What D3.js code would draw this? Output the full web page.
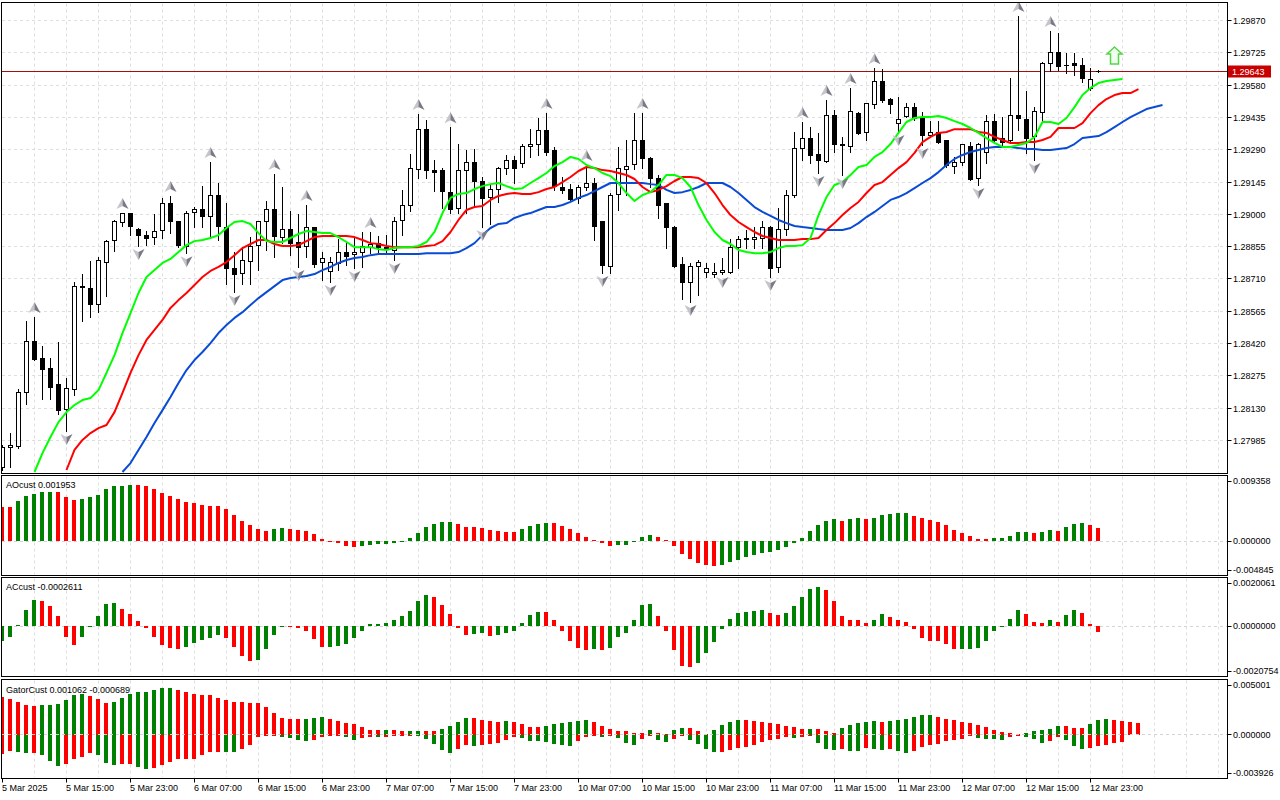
<!DOCTYPE html>
<html>
<head>
<meta charset="utf-8">
<script src="https://cdn.jsdelivr.net/npm/d3@7"></script>
<style>
  body { margin: 0; background: #fff; }
  svg { display: block; }
  text { font-family: "Liberation Sans", Arial, sans-serif; font-size: 9px; fill: #000; }
</style>
</head>
<body>
<div id="chart"></div>
<script>
// GBPUSD H1, 5 Mar 07:00 .. 13 Mar 00:00 (one candle per hour)
const open = [
1.27861,1.27951,1.27960,1.28202,1.28431,1.28355,1.28310,1.28234,1.28126,1.28216,
1.28674,1.28665,1.28593,1.28786,1.28880,1.28961,1.29002,1.28930,1.28907,1.28894,
1.28925,1.29047,1.28966,1.28858,1.29006,1.29020,1.28988,1.29083,1.28943,1.28759,
1.28732,1.28791,1.28858,1.28966,1.29020,1.28898,1.28934,1.28876,1.28853,1.28939,
1.28782,1.28741,1.28782,1.28831,1.28822,1.28831,1.28853,1.28871,1.28853,1.28840,
1.28970,1.29038,1.29204,1.29383,1.29199,1.29195,1.29100,1.29024,1.29195,1.29231,
1.29150,1.29074,1.29110,1.29204,1.29240,1.29231,1.29307,1.29316,1.29379,1.29285,
1.29123,1.29114,1.29074,1.29123,1.29141,1.28966,1.28768,1.29087,1.29204,1.29226,
1.29334,1.29253,1.29163,1.29047,1.28943,1.28773,1.28692,1.28764,1.28737,1.28728,
1.28737,1.28741,1.28853,1.28889,1.28889,1.28894,1.28943,1.28764,1.28934,1.29087,
1.29298,1.29343,1.29267,1.29240,1.29446,1.29316,1.29303,1.29455,1.29366,1.29496,
1.29599,1.29518,1.29410,1.29442,1.29482,1.29433,1.29357,1.29370,1.29330,1.29217,
1.29235,1.29307,1.29163,1.29280,1.29419,1.29343,1.29330,1.29442,1.29428,1.29348,
1.29460,1.29680,1.29729,1.29671,1.29676,1.29671,1.29568,1.29644
];
const high = [
1.27964,1.28018,1.28216,1.28521,1.28539,1.28409,1.28355,1.28427,1.28265,1.28696,
1.28732,1.28791,1.28809,1.28885,1.28975,1.29006,1.29006,1.28939,1.28925,1.29002,
1.29074,1.29083,1.28970,1.29015,1.29033,1.29127,1.29235,1.29141,1.29051,1.28831,
1.28853,1.28898,1.28970,1.29060,1.29181,1.29123,1.29015,1.29002,1.29042,1.28943,
1.28831,1.28809,1.28889,1.28871,1.28894,1.28921,1.28921,1.28903,1.28907,1.28988,
1.29110,1.29271,1.29451,1.29424,1.29244,1.29208,1.29392,1.29316,1.29289,1.29294,
1.29168,1.29136,1.29213,1.29267,1.29262,1.29316,1.29383,1.29433,1.29455,1.29303,
1.29168,1.29136,1.29132,1.29222,1.29163,1.28966,1.29096,1.29303,1.29334,1.29455,
1.29455,1.29258,1.29177,1.29051,1.28948,1.28809,1.28782,1.28795,1.28782,1.28782,
1.28804,1.28889,1.28903,1.28930,1.28943,1.28970,1.28948,1.29029,1.29110,1.29370,
1.29415,1.29392,1.29366,1.29514,1.29469,1.29348,1.29568,1.29460,1.29500,1.29657,
1.29653,1.29523,1.29527,1.29500,1.29500,1.29460,1.29419,1.29419,1.29334,1.29258,
1.29316,1.29325,1.29321,1.29446,1.29451,1.29437,1.29613,1.29891,1.29554,1.29482,
1.29685,1.29824,1.29815,1.29725,1.29725,1.29703,1.29657,1.29649
];
const low = [
1.27852,1.27865,1.27951,1.28148,1.28346,1.28171,1.28171,1.28103,1.28027,1.28189,
1.28521,1.28539,1.28561,1.28633,1.28835,1.28948,1.28907,1.28858,1.28862,1.28867,
1.28894,1.28916,1.28853,1.28826,1.28943,1.28943,1.28898,1.28885,1.28687,1.28651,
1.28687,1.28687,1.28750,1.28840,1.28809,1.28871,1.28817,1.28764,1.28809,1.28764,
1.28705,1.28696,1.28750,1.28773,1.28759,1.28764,1.28826,1.28826,1.28831,1.28795,
1.28907,1.29015,1.29163,1.29163,1.29105,1.29029,1.29006,1.29006,1.29006,1.29038,
1.28943,1.28957,1.29056,1.29181,1.29141,1.29213,1.29258,1.29267,1.29267,1.29110,
1.29096,1.29065,1.29051,1.29110,1.28885,1.28737,1.28737,1.29020,1.29087,1.29204,
1.29208,1.29123,1.28984,1.28849,1.28764,1.28620,1.28606,1.28638,1.28719,1.28719,
1.28732,1.28737,1.28759,1.28849,1.28849,1.28849,1.28719,1.28741,1.28907,1.29078,
1.29244,1.29231,1.29186,1.29235,1.29280,1.29177,1.29280,1.29361,1.29334,1.29478,
1.29505,1.29455,1.29370,1.29437,1.29424,1.29312,1.29348,1.29321,1.29213,1.29186,
1.29222,1.29154,1.29132,1.29231,1.29325,1.29312,1.29325,1.29379,1.29276,1.29244,
1.29415,1.29644,1.29649,1.29635,1.29626,1.29595,1.29559,1.29640
];
const close = [
1.27951,1.27960,1.28202,1.28431,1.28350,1.28305,1.28225,1.28117,1.28220,1.28678,
1.28669,1.28593,1.28791,1.28880,1.28966,1.29002,1.28943,1.28903,1.28894,1.28921,
1.29047,1.28966,1.28858,1.29006,1.29020,1.28988,1.29083,1.28943,1.28759,1.28732,
1.28791,1.28858,1.28966,1.29020,1.28898,1.28934,1.28871,1.28853,1.28939,1.28773,
1.28800,1.28782,1.28831,1.28813,1.28831,1.28858,1.28867,1.28853,1.28849,1.28970,
1.29038,1.29204,1.29383,1.29199,1.29190,1.29100,1.29024,1.29195,1.29231,1.29145,
1.29074,1.29110,1.29204,1.29240,1.29204,1.29307,1.29316,1.29379,1.29280,1.29123,
1.29110,1.29069,1.29123,1.29141,1.28948,1.28768,1.29087,1.29204,1.29217,1.29334,
1.29253,1.29163,1.29042,1.28939,1.28768,1.28692,1.28764,1.28782,1.28755,1.28737,
1.28746,1.28853,1.28889,1.28894,1.28898,1.28943,1.28759,1.28934,1.29087,1.29298,
1.29343,1.29267,1.29240,1.29446,1.29316,1.29312,1.29460,1.29366,1.29496,1.29599,
1.29514,1.29496,1.29428,1.29482,1.29433,1.29357,1.29370,1.29325,1.29217,1.29235,
1.29316,1.29159,1.29316,1.29419,1.29334,1.29325,1.29442,1.29428,1.29343,1.29460,
1.29680,1.29729,1.29667,1.29669,1.29667,1.29613,1.29608,1.29643
];

// Alligator lines (index of first visible point, then values)
const lipsStart = 4;
const lips = [
1.27843,1.27928,1.28000,1.28067,1.28112,1.28144,1.28166,1.28175,1.28211,1.28288,
1.28368,1.28467,1.28557,1.28647,1.28719,1.28750,1.28782,1.28800,1.28831,1.28862,
1.28880,1.28885,1.28894,1.28907,1.28939,1.28966,1.28970,1.28957,1.28916,1.28880,
1.28876,1.28876,1.28894,1.28912,1.28925,1.28921,1.28916,1.28916,1.28898,1.28876,
1.28853,1.28853,1.28853,1.28844,1.28840,1.28849,1.28853,1.28853,1.28858,1.28876,
1.28921,1.29006,1.29074,1.29092,1.29096,1.29114,1.29127,1.29136,1.29141,1.29127,
1.29114,1.29118,1.29141,1.29163,1.29186,1.29217,1.29235,1.29258,1.29249,1.29222,
1.29208,1.29186,1.29172,1.29141,1.29096,1.29060,1.29087,1.29100,1.29132,1.29177,
1.29177,1.29163,1.29123,1.29042,1.28975,1.28921,1.28885,1.28867,1.28840,1.28831,
1.28826,1.28826,1.28831,1.28849,1.28858,1.28858,1.28862,1.28894,1.28997,1.29078,
1.29132,1.29145,1.29177,1.29213,1.29222,1.29258,1.29280,1.29316,1.29366,1.29415,
1.29433,1.29437,1.29437,1.29442,1.29433,1.29419,1.29406,1.29388,1.29366,1.29343,
1.29321,1.29303,1.29303,1.29312,1.29321,1.29348,1.29415,1.29415,1.29406,1.29433,
1.29482,1.29536,1.29568,1.29590,1.29599,1.29604,1.29608
];
const teethStart = 8;
const teeth = [
1.27852,1.27942,1.27987,1.28018,1.28040,1.28054,1.28112,1.28198,1.28288,1.28368,
1.28436,1.28481,1.28526,1.28580,1.28615,1.28647,1.28683,1.28719,1.28746,1.28764,
1.28786,1.28817,1.28849,1.28867,1.28885,1.28885,1.28867,1.28858,1.28858,1.28862,
1.28880,1.28898,1.28903,1.28903,1.28903,1.28903,1.28898,1.28885,1.28871,1.28867,
1.28858,1.28853,1.28853,1.28853,1.28853,1.28858,1.28862,1.28880,1.28921,1.28975,
1.29020,1.29033,1.29038,1.29065,1.29083,1.29092,1.29096,1.29092,1.29092,1.29100,
1.29114,1.29123,1.29145,1.29168,1.29195,1.29213,1.29208,1.29199,1.29195,1.29186,
1.29177,1.29159,1.29123,1.29100,1.29110,1.29127,1.29150,1.29168,1.29168,1.29163,
1.29141,1.29096,1.29042,1.28997,1.28966,1.28943,1.28921,1.28903,1.28894,1.28885,
1.28885,1.28885,1.28889,1.28889,1.28894,1.28930,1.28961,1.28997,1.29029,1.29056,
1.29096,1.29132,1.29145,1.29177,1.29208,1.29235,1.29276,1.29325,1.29348,1.29366,
1.29370,1.29383,1.29383,1.29383,1.29370,1.29366,1.29348,1.29334,1.29321,1.29321,
1.29325,1.29325,1.29334,1.29348,1.29388,1.29388,1.29388,1.29410,1.29455,1.29491,
1.29518,1.29536,1.29545,1.29545,1.29563
];
const jawStart = 15;
const jaw = [
1.27843,1.27883,1.27942,1.28000,1.28063,1.28121,1.28180,1.28243,1.28301,1.28346,
1.28382,1.28422,1.28467,1.28503,1.28535,1.28561,1.28593,1.28624,1.28651,1.28678,
1.28705,1.28714,1.28719,1.28723,1.28732,1.28750,1.28764,1.28782,1.28795,1.28804,
1.28809,1.28817,1.28822,1.28822,1.28822,1.28822,1.28822,1.28822,1.28826,1.28826,
1.28826,1.28826,1.28831,1.28849,1.28871,1.28907,1.28939,1.28957,1.28961,1.28984,
1.28997,1.29006,1.29020,1.29033,1.29033,1.29042,1.29056,1.29074,1.29087,1.29105,
1.29123,1.29141,1.29141,1.29141,1.29141,1.29141,1.29136,1.29132,1.29110,1.29096,
1.29100,1.29110,1.29123,1.29141,1.29141,1.29141,1.29123,1.29096,1.29065,1.29033,
1.29011,1.28993,1.28975,1.28961,1.28948,1.28943,1.28939,1.28934,1.28930,1.28930,
1.28930,1.28939,1.28961,1.28988,1.29011,1.29038,1.29065,1.29078,1.29096,1.29118,
1.29141,1.29163,1.29190,1.29222,1.29249,1.29267,1.29280,1.29289,1.29298,1.29303,
1.29303,1.29303,1.29298,1.29294,1.29294,1.29289,1.29289,1.29294,1.29298,1.29316,
1.29343,1.29348,1.29352,1.29370,1.29392,1.29415,1.29437,1.29455,1.29473,1.29482,
1.29491
];

// Bill Williams fractals (candle indices)
const fractalUp = [4,15,21,26,34,38,46,52,56,68,73,80,100,103,106,109,127,131];
const fractalDown = [8,17,23,29,37,41,44,49,60,75,86,90,96,102,105,112,115,122,129];
const signalUp = { k: 139, price: 1.29752 };

const ao = [
0.00497,0.00488,0.00582,0.00653,0.00682,0.00705,0.00715,0.00710,0.00639,0.00596,
0.00611,0.00639,0.00667,0.00753,0.00795,0.00805,0.00810,0.00807,0.00795,0.00753,
0.00696,0.00653,0.00611,0.00568,0.00554,0.00525,0.00511,0.00502,0.00459,0.00383,
0.00298,0.00227,0.00170,0.00142,0.00170,0.00185,0.00170,0.00156,0.00142,0.00099,
0.00028,-0.00009,-0.00033,-0.00066,-0.00085,-0.00076,-0.00052,-0.00047,-0.00043,-0.00024,
-0.00009,0.00043,0.00123,0.00204,0.00241,0.00270,0.00275,0.00241,0.00208,0.00199,
0.00194,0.00156,0.00142,0.00137,0.00133,0.00170,0.00213,0.00241,0.00256,0.00255,
0.00213,0.00170,0.00114,0.00062,0.00019,-0.00033,-0.00066,-0.00062,-0.00057,-0.00019,
0.00066,0.00085,0.00062,0.00014,-0.00066,-0.00185,-0.00256,-0.00317,-0.00350,-0.00355,
-0.00341,-0.00308,-0.00275,-0.00237,-0.00208,-0.00175,-0.00156,-0.00128,-0.00090,-0.00024,
0.00043,0.00142,0.00227,0.00289,0.00317,0.00284,0.00317,0.00331,0.00327,0.00341,
0.00383,0.00398,0.00400,0.00402,0.00365,0.00336,0.00308,0.00270,0.00227,0.00156,
0.00114,0.00071,0.00028,0.00024,0.00043,0.00045,0.00071,0.00128,0.00130,0.00114,
0.00128,0.00156,0.00151,0.00199,0.00241,0.00256,0.00227,0.001953
];
const ac = [
-0.00060,-0.00045,0.00004,0.00069,0.00110,0.00106,0.00086,0.00041,-0.00045,-0.00078,
-0.00045,-0.00004,0.00041,0.00094,0.00098,0.00073,0.00049,0.00020,-0.00008,-0.00045,
-0.00078,-0.00090,-0.00094,-0.00086,-0.00069,-0.00056,-0.00049,-0.00037,-0.00049,-0.00088,
-0.00126,-0.00144,-0.00141,-0.00097,-0.00037,0.00001,-0.00003,-0.00008,-0.00020,-0.00053,
-0.00087,-0.00086,-0.00084,-0.00073,-0.00049,-0.00020,0.00010,0.00011,0.00012,0.00024,
0.00041,0.00065,0.00106,0.00131,0.00122,0.00090,0.00049,-0.00007,-0.00037,-0.00031,
-0.00029,-0.00039,-0.00037,-0.00030,-0.00020,0.00012,0.00045,0.00061,0.00057,0.00024,
-0.00019,-0.00060,-0.00092,-0.00101,-0.00097,-0.00101,-0.00090,-0.00044,-0.00027,0.00024,
0.00090,0.00094,0.00041,-0.00019,-0.00101,-0.00166,-0.00170,-0.00154,-0.00113,-0.00064,
-0.00011,0.00029,0.00053,0.00061,0.00065,0.00066,0.00053,0.00045,0.00053,0.00086,
0.00122,0.00155,0.00163,0.00151,0.00106,0.00041,0.00026,0.00025,0.00014,0.00026,
0.00049,0.00037,0.00026,0.00018,-0.00012,-0.00049,-0.00060,-0.00063,-0.00076,-0.00097,
-0.00095,-0.00094,-0.00090,-0.00060,-0.00019,0.00001,0.00029,0.00069,0.00049,0.00016,
0.00015,0.00024,0.00016,0.00045,0.00069,0.00053,0.00008,-0.0002611
];
const gatorUp = [
0.00342,0.00324,0.00300,0.00270,0.00261,0.00270,0.00272,0.00282,0.00315,0.00360,
0.00369,0.00351,0.00324,0.00288,0.00297,0.00333,0.00369,0.00387,0.00389,0.00405,
0.00423,0.00425,0.00405,0.00387,0.00369,0.00368,0.00360,0.00333,0.00315,0.00297,
0.00296,0.00294,0.00293,0.00252,0.00198,0.00153,0.00144,0.00143,0.00144,0.00153,
0.00162,0.00144,0.00126,0.00108,0.00099,0.00072,0.00045,0.00044,0.00045,0.00044,
0.00036,0.000375,0.00039,0.000375,0.00036,0.00054,0.00081,0.00117,0.00153,0.00152,
0.00135,0.00126,0.00117,0.00126,0.00117,0.00099,0.00072,0.00071,0.00081,0.00099,
0.00108,0.00117,0.00126,0.00135,0.00117,0.00081,0.00054,0.00036,0.000345,0.00018,
0.000165,0.00045,0.00018,0.00009,0.00045,0.00063,0.000615,0.00036,0.00009,0.00045,
0.00090,0.00117,0.00135,0.001335,0.00126,0.00117,0.00108,0.00099,0.00081,0.00072,
0.00054,0.000555,0.00054,0.00036,0.00018,0.00063,0.00090,0.00108,0.00117,0.00126,
0.00117,0.00126,0.00135,0.00144,0.00162,0.00180,0.001815,0.00162,0.00144,0.00135,
0.00117,0.00108,0.00090,0.00072,0.00045,0.00027,0.00018,0.00009,0.00018,0.00036,
0.00045,0.00054,0.00081,0.000795,0.00063,0.000615,0.00099,0.00135,0.00144,0.00135,
0.00126,0.00117,0.001062
];
const gatorDown = [
-0.00174,-0.00144,-0.00153,-0.00162,-0.001605,-0.00180,-0.00240,-0.00285,-0.00261,-0.00216,
-0.00198,-0.00162,-0.00180,-0.00252,-0.00270,-0.002685,-0.00267,-0.00294,-0.00315,-0.00303,
-0.00270,-0.00243,-0.00222,-0.002205,-0.00216,-0.00183,-0.00153,-0.001515,-0.00153,-0.001545,
-0.00132,-0.00093,-0.00018,-0.00006,-0.00003,-0.00018,-0.00027,-0.00048,-0.00060,-0.00045,
-0.00018,-0.00012,-0.00009,-0.00018,-0.00045,-0.00027,-0.00018,-0.000195,-0.00015,-0.00009,
-0.000075,-0.00003,-0.00006,-0.00033,-0.00081,-0.00135,-0.00162,-0.00126,-0.00090,-0.00099,
-0.00090,-0.00081,-0.00072,-0.00045,-0.00018,-0.00027,-0.00054,-0.00060,-0.00069,-0.00081,
-0.00096,-0.000975,-0.00060,-0.00015,-0.00006,-0.00018,-0.000015,-0.00024,-0.00078,-0.00096,
-0.00033,-0.00006,-0.00042,-0.00069,-0.00033,-0.00003,-0.00042,-0.00087,-0.00132,-0.00159,
-0.001575,-0.00141,-0.00123,-0.00114,-0.00096,-0.00069,-0.00051,-0.00033,-0.00015,-0.00024,
-0.00015,-0.00006,-0.00078,-0.00132,-0.00141,-0.00132,-0.001425,-0.00150,-0.00123,-0.00132,
-0.00141,-0.00132,-0.00150,-0.00168,-0.00150,-0.00114,-0.00096,-0.00087,-0.00060,-0.00042,
-0.00033,-0.00006,-0.00024,-0.00033,-0.000345,-0.00042,-0.00015,-0.00006,-0.00015,-0.00033,
-0.00078,-0.00060,-0.00015,-0.00042,-0.00105,-0.00132,-0.00123,-0.00105,-0.00096,-0.00070,
-0.000689
];

const priceTicks = [1.27985,1.28130,1.28275,1.28420,1.28565,1.28710,1.28855,1.29000,1.29145,1.29290,1.29435,1.29580,1.29725,1.29870];
const timeLabels = ["5 Mar 2025","5 Mar 15:00","5 Mar 23:00","6 Mar 07:00","6 Mar 15:00","6 Mar 23:00",
  "7 Mar 07:00","7 Mar 15:00","7 Mar 23:00","10 Mar 07:00","10 Mar 15:00","10 Mar 23:00",
  "11 Mar 07:00","11 Mar 15:00","11 Mar 23:00","12 Mar 07:00","12 Mar 15:00","12 Mar 23:00"];
const labelStep = 8; // one time label every 8 candles
const aoRange = [-0.004845, 0.009358];
const acRange = [-0.0020754, 0.0020061];
const gatorRange = [-0.003926, 0.005001];

// ---------------------------------------------------------------
const width = 1280, height = 800, axisX = 1227.5;
const GREEN = "#008000", RED = "#ff0000";

const svg = d3.select("#chart").append("svg")
  .attr("width", width).attr("height", height);
svg.append("rect").attr("width", width).attr("height", height).attr("fill", "#fff");

const x = d3.scaleLinear().domain([0, 1]).range([2.5, 10.5]);
const px = v => Math.round(v - 0.5) + 0.5;

const panels = {
  main:  { top: 2.5,   bottom: 473.5 },
  ao:    { top: 475.5, bottom: 575.5 },
  ac:    { top: 577.5, bottom: 676.5 },
  gator: { top: 679.5, bottom: 778.5 }
};

const y = d3.scaleLinear().domain([1.27843, 1.29963]).range([472, 0]);
const yAO = d3.scaleLinear().domain(aoRange).range([574.5, 476.5]);
const yAC = d3.scaleLinear().domain(acRange).range([676, 578]);
const yG = d3.scaleLinear().domain(gatorRange).range([778, 680]);

const defs = svg.append("defs");
Object.entries(panels).forEach(([name, p]) => {
  defs.append("clipPath").attr("id", "clip-" + name)
    .append("rect").attr("x", 2).attr("y", p.top + 0.5)
    .attr("width", axisX - 2.5).attr("height", p.bottom - p.top - 1);
});

// vertical grid in every panel
const gridKs = d3.range(4, 153, 4);
Object.entries(panels).forEach(([name, p]) => {
  svg.append("g").selectAll("line").data(gridKs).join("line")
    .attr("x1", d => x(d)).attr("x2", d => x(d))
    .attr("y1", p.top + 1).attr("y2", p.bottom - 1)
    .attr("stroke", "#dedede").attr("stroke-dasharray", "3,3");
});

// horizontal grid (main)
svg.append("g").selectAll("line").data(priceTicks).join("line")
  .attr("x1", 2).attr("x2", axisX)
  .attr("y1", d => px(y(d))).attr("y2", d => px(y(d)))
  .attr("stroke", "#dedede").attr("stroke-dasharray", "3,3");

// ---------------- main panel ----------------
const main = svg.append("g").attr("clip-path", "url(#clip-main)");
const last = close.length - 1;

// bid line
main.append("line")
  .attr("x1", 2).attr("x2", axisX)
  .attr("y1", px(y(close[last]))).attr("y2", px(y(close[last])))
  .attr("stroke", "#a01010");

const candles = d3.range(open.length).map(i => ({
  k: i, o: open[i], h: high[i], l: low[i], c: close[i]
}));

const cg = main.append("g");
cg.selectAll("line").data(candles).join("line")
  .attr("x1", d => x(d.k)).attr("x2", d => x(d.k))
  .attr("y1", d => Math.round(y(d.h))).attr("y2", d => Math.round(y(d.l)) + 1)
  .attr("stroke", "#000");
cg.selectAll("rect").data(candles).join("rect")
  .attr("x", d => x(d.k) - 2)
  .attr("y", d => px(y(Math.max(d.o, d.c))))
  .attr("width", 4)
  .attr("height", d => Math.max(0.01, Math.round(Math.abs(y(d.o) - y(d.c)))))
  .attr("fill", d => d.c >= d.o ? "#fff" : "#000")
  .attr("stroke", "#000");

// alligator
const line = d3.line().x(d => x(d.k)).y(d => y(d.v));
const series = (vals, start) => vals.map((v, i) => ({ k: start + i, v }));
[[jaw, jawStart, "#0a4bd6"], [teeth, teethStart, "#ff0000"], [lips, lipsStart, "#00ff00"]]
  .forEach(([vals, start, col]) => {
    main.append("path").datum(series(vals, start))
      .attr("d", line).attr("fill", "none")
      .attr("stroke", col).attr("stroke-width", 2)
      .attr("stroke-linejoin", "round");
  });

// fractal arrows
function arrow(g, cx, cy, dir) {
  const s = dir;  // 1 = up, -1 = down
  g.append("path")
    .attr("d", `M${cx},${cy - 6 * s} L${cx},${cy + 2 * s} L${cx - 6},${cy + 5 * s} Z`)
    .attr("fill", "#c4c4cc");
  g.append("path")
    .attr("d", `M${cx},${cy - 6 * s} L${cx + 6},${cy + 5 * s} L${cx},${cy + 2 * s} Z`)
    .attr("fill", "#7a7a84");
}
const fg = main.append("g");
fractalUp.forEach(k => arrow(fg, x(k), y(high[k]) - 9, 1));
fractalDown.forEach(k => arrow(fg, x(k), y(low[k]) + 8, -1));

// buy signal arrow
{
  const cx = x(signalUp.k), ty = y(signalUp.price);
  main.append("path")
    .attr("d", `M${cx},${ty} L${cx + 7.5},${ty + 7} L${cx + 4},${ty + 7} L${cx + 4},${ty + 17}
                L${cx - 4},${ty + 17} L${cx - 4},${ty + 7} L${cx - 7.5},${ty + 7} Z`)
    .attr("fill", "#f2fff0").attr("stroke", "#55d64a").attr("stroke-width", 1.5)
    .attr("stroke-linejoin", "miter");
}

// ---------------- oscillator panels ----------------
function colours(vals, firstColour, useAbs) {
  return vals.map((v, i) => {
    if (i === 0) return firstColour;
    const a = useAbs ? Math.abs(v) : v, b = useAbs ? Math.abs(vals[i - 1]) : vals[i - 1];
    return a > b ? GREEN : RED;
  });
}
function bars(g, vals, scale, cols) {
  const z = Math.round(scale(0));
  g.selectAll(null).data(vals).join("rect")
    .attr("x", (d, i) => x(i) - 2.5)
    .attr("y", d => d >= 0 ? Math.round(scale(d)) : z)
    .attr("width", 4)
    .attr("height", d => Math.max(1, Math.abs(Math.round(scale(d)) - z)))
    .attr("fill", (d, i) => cols[i]);
}
function zeroLine(g, scale) {
  g.append("line").attr("x1", 2).attr("x2", axisX)
    .attr("y1", px(scale(0))).attr("y2", px(scale(0)))
    .attr("stroke", "#d4d4d4").attr("stroke-dasharray", "3,3");
}

const gAO = svg.append("g").attr("clip-path", "url(#clip-ao)");
zeroLine(gAO, yAO);
bars(gAO, ao, yAO, colours(ao, RED, false));

const gAC = svg.append("g").attr("clip-path", "url(#clip-ac)");
zeroLine(gAC, yAC);
bars(gAC, ac, yAC, colours(ac, GREEN, false));

const gG = svg.append("g").attr("clip-path", "url(#clip-gator)");
bars(gG.append("g"), gatorUp, yG, colours(gatorUp, RED, true));
bars(gG.append("g"), gatorDown, yG, colours(gatorDown, RED, true));
zeroLine(gG, yG);

// ---------------- frames ----------------
Object.values(panels).forEach(p => {
  svg.append("rect").attr("x", 1.5).attr("y", p.top)
    .attr("width", axisX - 1.5).attr("height", p.bottom - p.top)
    .attr("fill", "none").attr("stroke", "#000");
});

// ---------------- right axis ----------------
const ax = svg.append("g");
priceTicks.forEach(v => {
  const yy = px(y(v));
  ax.append("line").attr("x1", axisX).attr("x2", axisX + 4).attr("y1", yy).attr("y2", yy).attr("stroke", "#000");
  ax.append("text").attr("x", 1233).attr("y", yy).attr("dy", "0.35em").text(v.toFixed(5));
});

// current price tag
{
  const yy = px(y(close[last]));
  ax.append("rect").attr("x", 1228).attr("y", yy - 6).attr("width", 43).attr("height", 12).attr("fill", "#c80000");
  ax.append("text").attr("x", 1232).attr("y", yy).attr("dy", "0.36em")
    .style("fill", "#fff").text(close[last].toFixed(5));
}

function oscAxis(p, scale, range, digits) {
  [range[1], 0, range[0]].forEach(v => {
    const yy = Math.min(Math.max(scale(v), p.top + 5.5), p.bottom - 5.5);
    ax.append("line").attr("x1", axisX).attr("x2", axisX + 4)
      .attr("y1", px(yy)).attr("y2", px(yy)).attr("stroke", "#000");
    ax.append("text").attr("x", 1233).attr("y", yy).attr("dy", "0.35em").text(v.toFixed(digits));
  });
}
oscAxis(panels.ao, yAO, aoRange, 6);
oscAxis(panels.ac, yAC, acRange, 7);
oscAxis(panels.gator, yG, gatorRange, 6);

// panel captions
svg.append("text").attr("x", 6).attr("y", panels.ao.top + 12)
  .text("AOcust " + ao[ao.length - 1].toFixed(6));
svg.append("text").attr("x", 6).attr("y", panels.ac.top + 12.5)
  .text("ACcust " + ac[ac.length - 1].toFixed(7));
svg.append("text").attr("x", 6).attr("y", panels.gator.top + 13)
  .text("GatorCust " + gatorUp[gatorUp.length - 1].toFixed(6) + " " + gatorDown[gatorDown.length - 1].toFixed(6));

// ---------------- time axis ----------------
const tx = svg.append("g");
timeLabels.forEach((t, i) => {
  const xx = x(i * labelStep);
  tx.append("line").attr("x1", xx).attr("x2", xx)
    .attr("y1", panels.gator.bottom).attr("y2", panels.gator.bottom + 4).attr("stroke", "#000");
  tx.append("text").attr("x", xx - 0.5).attr("y", 791).text(t);
});
</script>
</body>
</html>
